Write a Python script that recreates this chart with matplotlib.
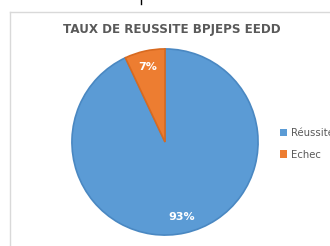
import matplotlib
matplotlib.use('Agg')
import matplotlib.pyplot as plt
from matplotlib.lines import Line2D
from matplotlib.patches import Patch

labels = ['Réussite', 'Echec']
values = [93, 7]
colors = ['#5B9BD5', '#ED7D31']
edges = ['#4A88C2', '#D86A20']
title = 'TAUX DE REUSSITE BPJEPS EEDD'

W, H = 330, 246
fig = plt.figure(figsize=(W / 100, H / 100), dpi=100)
fig.patch.set_facecolor('white')

# chart area frame (only left and top visible)
fig.add_artist(Line2D([9.5 / W, 9.5 / W], [0, 1 - 11.5 / H], color='#D9D9D9', lw=1))
fig.add_artist(Line2D([9.5 / W, 1.01], [1 - 11.5 / H, 1 - 11.5 / H], color='#D9D9D9', lw=1))
# little black tick at the top
fig.add_artist(Line2D([140.5 / W, 140.5 / W], [1, 1 - 4 / H], color='black', lw=1))

cx, cy, r = 165, 142, 94
ax = fig.add_axes([(cx - r) / W, (H - cy - r) / H, 2 * r / W, 2 * r / H])
wedges, texts, autotexts = ax.pie(values, colors=colors, startangle=90, counterclock=False,
                                  autopct='%1.0f%%', pctdistance=0.83,
                                  wedgeprops=dict(linewidth=1.2),
                                  textprops=dict(color='white', fontsize=8, fontweight='bold'))
for w, e in zip(wedges, edges):
    w.set_edgecolor(e)
ax.set_xlim(-1.01, 1.01)
ax.set_ylim(-1.01, 1.01)
ax.set_aspect('equal')

fig.text(172 / W, 1 - 30 / H, title, ha='center', va='center', fontsize=8.6,
         fontweight='bold', color='#595959')

handles = [Patch(facecolor=c, edgecolor='none') for c in colors]
fig.legend(handles, labels, loc='center left', bbox_to_anchor=(275 / W, 1 - 144 / H),
           frameon=False, fontsize=7.3, labelcolor='#595959', handlelength=0.7,
           handleheight=0.7, handletextpad=0.4, labelspacing=1.1, borderpad=0)

fig.savefig('out.png', dpi=100)
